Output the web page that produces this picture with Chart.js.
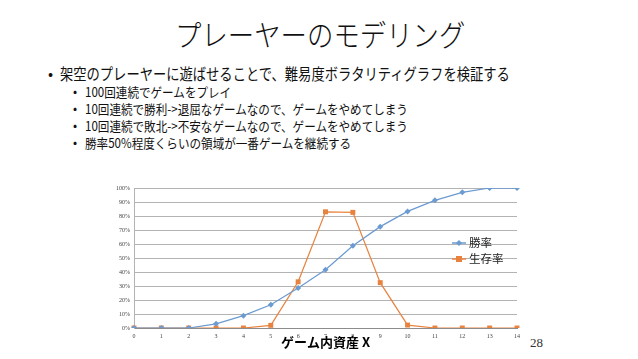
<!DOCTYPE html>
<html><head><meta charset="utf-8">
<script src="https://cdn.jsdelivr.net/npm/chart.js@4.4.1/dist/chart.umd.min.js"></script>
<style>
html,body{margin:0;padding:0;background:#fff;}
body{width:638px;height:359px;position:relative;overflow:hidden;font-family:"Noto Sans CJK JP","Noto Sans",sans-serif;color:#111;}
.t{position:absolute;white-space:nowrap;line-height:1;transform-origin:0 0;}
#title{left:175px;top:18px;font-size:30px;font-weight:300;transform:scaleX(0.88);}
.b1{left:60px;font-size:16px;transform:scaleX(0.83);}
.b2{left:85px;font-size:13px;transform:scaleX(0.89);}
.dot{position:absolute;line-height:1;}
#num{left:530px;top:336px;font-family:"Liberation Serif",serif;font-size:13px;color:#333;}
#wrap{position:absolute;left:0;top:0;width:638px;height:359px;}
</style></head><body>
<div id="title" class="t">プレーヤーのモデリング</div>
<div class="dot" style="left:48px;top:65px;font-size:15px">•</div>
<div class="t b1" style="top:65px">架空のプレーヤーに遊ばせることで、難易度ボラタリティグラフを検証する</div>
<div class="dot" style="left:73px;top:85px;font-size:12px">•</div>
<div class="t b2" style="top:85px">100回連続でゲームをプレイ</div>
<div class="dot" style="left:73px;top:102px;font-size:12px">•</div>
<div class="t b2" style="top:102px">10回連続で勝利->退屈なゲームなので、ゲームをやめてしまう</div>
<div class="dot" style="left:73px;top:119px;font-size:12px">•</div>
<div class="t b2" style="top:119px">10回連続で敗北->不安なゲームなので、ゲームをやめてしまう</div>
<div class="dot" style="left:73px;top:136px;font-size:12px">•</div>
<div class="t b2" style="top:136px">勝率50%程度くらいの領域が一番ゲームを継続する</div>
<div id="num" class="t">28</div>
<div id="wrap"><canvas id="c" width="638" height="359"></canvas></div>
<script>
const categories = ["0","1","2","3","4","5","6","7","8","9","10","11","12","13","14"];
const winRate = [0, 0, 0, 3, 8.8, 16.6, 28.6, 41.6, 58.8, 72.4, 83.3, 91.2, 96.9, 100, 100];
const survivalRate = [0, 0, 0, 0, 0, 1.9, 33, 83, 82.6, 32.4, 2.1, 0, 0, 0, 0];
const seriesNames = ["勝率", "生存率"];
const xTitle = "ゲーム内資産 X";

const legendPlugin = {
  id: 'customLegend',
  afterDraw(chart) {
    const ctx = chart.ctx;
    const x0 = 452, ys = [243, 259];
    chart.data.datasets.forEach((ds, i) => {
      const y = ys[i];
      ctx.save();
      ctx.strokeStyle = ds.borderColor;
      ctx.lineWidth = 1.5;
      ctx.beginPath(); ctx.moveTo(x0, y); ctx.lineTo(x0 + 14, y); ctx.stroke();
      ctx.fillStyle = ds.backgroundColor;
      const cx = x0 + 7;
      if (ds.pointStyle === 'rectRot') {
        ctx.beginPath(); ctx.moveTo(cx, y - 3); ctx.lineTo(cx + 3, y); ctx.lineTo(cx, y + 3); ctx.lineTo(cx - 3, y); ctx.closePath(); ctx.fill();
      } else {
        ctx.fillRect(cx - 3, y - 3, 6, 6);
      }
      ctx.fillStyle = '#222';
      ctx.font = '11.5px "Noto Sans CJK JP"';
      ctx.textBaseline = 'middle';
      ctx.fillText(ds.label, x0 + 17, y);
      ctx.restore();
    });
  }
};

new Chart(document.getElementById('c'), {
  type: 'line',
  data: {
    labels: categories,
    datasets: [
      { label: seriesNames[0], data: winRate, borderColor: '#6b9bd1', backgroundColor: '#6b9bd1',
        borderWidth: 1.25, pointStyle: 'rectRot', pointRadius: 3, pointBorderWidth: 0, tension: 0 },
      { label: seriesNames[1], data: survivalRate, borderColor: '#e8833f', backgroundColor: '#e8833f',
        borderWidth: 1.25, pointStyle: 'rect', pointRadius: 3.5, pointBorderWidth: 0, tension: 0 }
    ]
  },
  options: {
    responsive: false,
    animation: false,
    layout: { padding: { left: 104, right: 121, top: 188, bottom: 9 } },
    plugins: { legend: { display: false }, tooltip: { enabled: false } },
    scales: {
      x: {
        offset: false,
        grid: { display: false, drawTicks: true, tickLength: 4 },
        border: { color: '#8c8c8c', width: 1 },
        ticks: { font: { family: '"Liberation Serif"', size: 6 }, color: '#444', padding: 1, maxRotation: 0, autoSkip: false },
        title: { display: true, text: xTitle, font: { family: '"Noto Sans CJK JP"', size: 13, weight: 'bold' }, color: '#000', padding: 0 },
        afterFit(s) { s.height = 22; }
      },
      y: {
        min: 0, max: 100,
        ticks: { stepSize: 10, callback: v => v + '%', font: { family: '"Liberation Serif"', size: 6 }, color: '#444', padding: 4 },
        grid: { color: '#b3b3b3', lineWidth: 1, drawTicks: false },
        border: { color: '#b3b3b3', width: 1 },
        afterFit(s) { s.width = 30; }
      }
    }
  },
  plugins: [legendPlugin]
});
</script>
</body></html>
